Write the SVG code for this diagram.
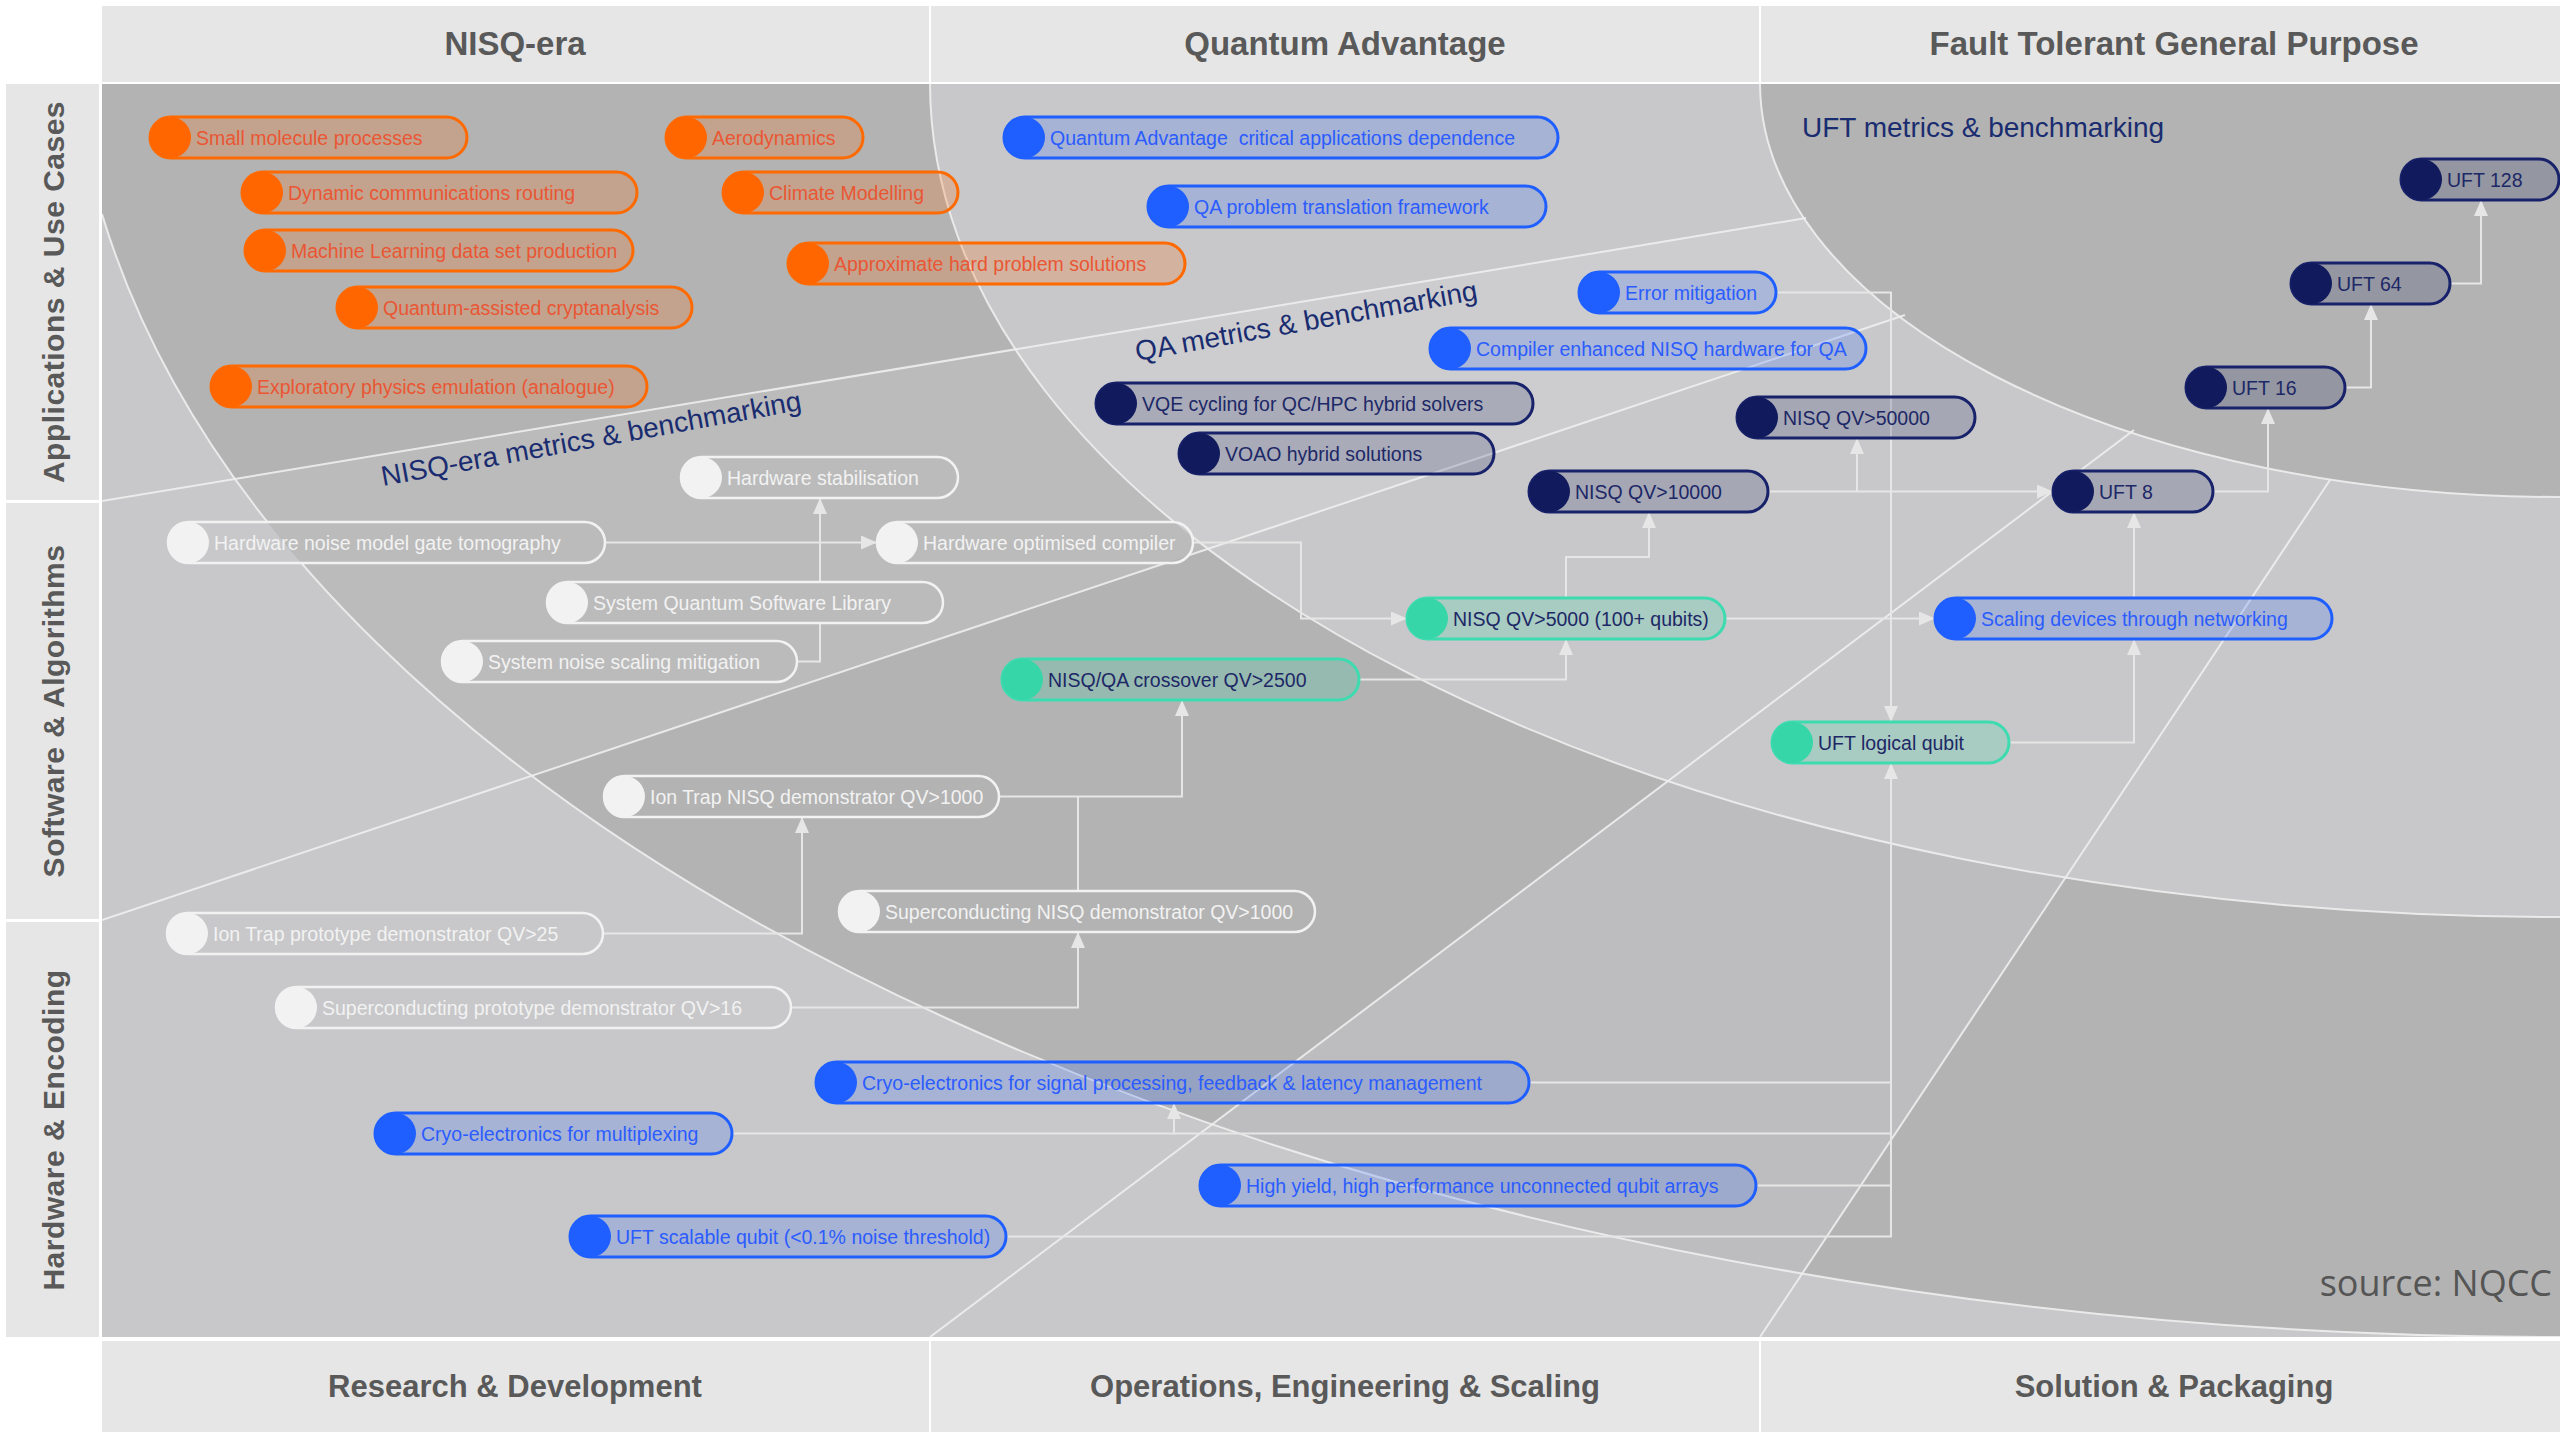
<svg xmlns="http://www.w3.org/2000/svg" xmlns:xlink="http://www.w3.org/1999/xlink" width="2560" height="1440" viewBox="0 0 2560 1440">
<defs>
<style>
.hdr{font-family:"Liberation Sans",Arial,sans-serif;font-weight:bold;font-size:33px;fill:#595959;text-anchor:middle}
.ftr{font-family:"Liberation Sans",Arial,sans-serif;font-weight:bold;font-size:31px;fill:#595959;text-anchor:middle}
.row{font-family:"Liberation Sans",Arial,sans-serif;font-weight:bold;font-size:30px;letter-spacing:0.5px;fill:#595959;text-anchor:middle}
.band{fill:#e6e6e6}
.bgline{fill:none;stroke:#eeeeee;stroke-width:2;stroke-opacity:0.9}
.conn{fill:none;stroke:#e6e6e6;stroke-width:2}
.metric{font-family:"Liberation Sans",Arial,sans-serif;font-size:28px;fill:#1a2c70}
.node text{font-family:"Liberation Sans",Arial,sans-serif;font-size:19.5px}
.node .body{stroke-width:3}
.or .body{fill:#ff6600;fill-opacity:0.21;stroke:#ff6a00}
.or .cap{fill:#ff6600}
.or text{fill:#ea5634}
.bl .body{fill:#1f5fff;fill-opacity:0.2;stroke:#1f5fff}
.bl .cap{fill:#1f5fff}
.bl text{fill:#2b5cff}
.nv .body{fill:#111a5c;fill-opacity:0.19;stroke:#18226a}
.nv .cap{fill:#111a5c}
.nv text{fill:#1d2866}
.tl .body{fill:#36d6a8;fill-opacity:0.22;stroke:#3ddbb0}
.tl .cap{fill:#36d6a8}
.tl text{fill:#1d2866}
.wh .body{fill:url(#bgpat);stroke:#f2f2f2;stroke-width:2.5}
.wh .cap{fill:#f2f2f2}
.wh text{fill:#f2f2f2}
</style>
<marker id="arr" markerUnits="userSpaceOnUse" markerWidth="16" markerHeight="14" refX="16" refY="7" orient="auto">
<path d="M0,0 L16,7 L0,14 Z" fill="#e6e6e6"/>
</marker>
<clipPath id="cContent"><rect x="102" y="84" width="2458" height="1253"/></clipPath>
<clipPath id="cSmid"><polygon points="102,501 1806,218 1905,315 102,920"/></clipPath>
<clipPath id="cSlower"><polygon points="930,1337 2134,430 2330,480 1760,1337"/></clipPath>
<g id="bgfill">
<g clip-path="url(#cContent)">
<rect x="102" y="84" width="2458" height="1253" fill="#c8c8ca"/>
<path d="M102,214 A2490,1337 0 0 0 2560,1337 L2560,80 L102,80 Z" fill="#b3b3b3"/>
<path d="M102,214 A2490,1337 0 0 0 2560,1337 L2560,80 L102,80 Z" fill="#bbbbbb" clip-path="url(#cSmid)"/>
<path d="M102,214 A2490,1337 0 0 0 2560,1337 L2560,80 L102,80 Z" fill="#bdbdbf" clip-path="url(#cSlower)"/>
<path d="M930,83 A1630,834 0 0 0 2560,917 L2560,83 Z" fill="#c8c8ca"/>
<path d="M930,83 A1630,834 0 0 0 2560,917 L2560,83 Z" fill="#cdcdcf" clip-path="url(#cSmid)"/>
<path d="M1760,83 A800,414 0 0 0 2560,497 L2560,83 Z" fill="#b3b3b3"/>
</g>
</g>
<pattern id="bgpat" patternUnits="userSpaceOnUse" x="0" y="0" width="2560" height="1440">
<use xlink:href="#bgfill" href="#bgfill"/>
</pattern>
</defs>

<rect x="0" y="0" width="2560" height="1440" fill="#ffffff"/>

<g id="background">
<use xlink:href="#bgfill" href="#bgfill"/>
<g clip-path="url(#cContent)">
<path class="bgline" d="M102,214 A2490,1337 0 0 0 2560,1337"/>
<path class="bgline" d="M930,83 A1630,834 0 0 0 2560,917"/>
<path class="bgline" d="M1760,83 A800,414 0 0 0 2560,497"/>
<path class="bgline" d="M102,501 L1806,218"/>
<path class="bgline" d="M102,920 L1905,315"/>
<path class="bgline" d="M930,1337 L2134,430"/>
<path class="bgline" d="M1760,1337 L2330,480"/>
</g>
</g>

<g id="headers">
<rect class="band" x="102" y="6" width="827" height="76"/>
<rect class="band" x="931" y="6" width="828" height="76"/>
<rect class="band" x="1761" y="6" width="799" height="76"/>
<text class="hdr" x="515" y="55">NISQ-era</text>
<text class="hdr" x="1345" y="55">Quantum Advantage</text>
<text class="hdr" x="2174" y="55">Fault Tolerant General Purpose</text>
<rect class="band" x="102" y="1341" width="827" height="91"/>
<rect class="band" x="931" y="1341" width="828" height="91"/>
<rect class="band" x="1761" y="1341" width="799" height="91"/>
<text class="ftr" x="515" y="1397">Research &amp; Development</text>
<text class="ftr" x="1345" y="1397">Operations, Engineering &amp; Scaling</text>
<text class="ftr" x="2174" y="1397">Solution &amp; Packaging</text>
<rect class="band" x="6" y="84" width="93" height="416"/>
<rect class="band" x="6" y="503" width="93" height="416"/>
<rect class="band" x="6" y="922" width="93" height="415"/>
<text class="row" transform="translate(64,292) rotate(-90)">Applications &amp; Use Cases</text>
<text class="row" transform="translate(64,711) rotate(-90)">Software &amp; Algorithms</text>
<text class="row" transform="translate(64,1130) rotate(-90)">Hardware &amp; Encoding</text>
</g>

<g id="labels">
<text class="metric" transform="translate(383,486) rotate(-10.3)">NISQ-era metrics &amp; benchmarking</text>
<text class="metric" transform="translate(1137,361) rotate(-10.2)">QA metrics &amp; benchmarking</text>
<text class="metric" x="1802" y="137">UFT metrics &amp; benchmarking</text>
<text x="2552" y="1296" font-family="'Open Sans','Noto Sans',sans-serif" font-size="36" fill="#555555" text-anchor="end">source: NQCC</text>
</g>

<g id="connectors">
<path class="conn" d="M605,542.5 H877" marker-end="url(#arr)"/>
<path class="conn" d="M797,661.5 H820 V498" marker-end="url(#arr)"/>
<path class="conn" d="M1193,542.5 H1301 V618.5 H1407" marker-end="url(#arr)"/>
<path class="conn" d="M1359,679.5 H1566 V639" marker-end="url(#arr)"/>
<path class="conn" d="M1566,598 V557 H1649 V512" marker-end="url(#arr)"/>
<path class="conn" d="M1768,491.5 H2053" marker-end="url(#arr)"/>
<path class="conn" d="M1857,491.5 V438" marker-end="url(#arr)"/>
<path class="conn" d="M2213,491.5 H2268 V408" marker-end="url(#arr)"/>
<path class="conn" d="M2345,387.5 H2371 V304" marker-end="url(#arr)"/>
<path class="conn" d="M2450,283.5 H2481 V200" marker-end="url(#arr)"/>
<path class="conn" d="M1776,292.5 H1891 V722" marker-end="url(#arr)"/>
<path class="conn" d="M2009,742.5 H2134 V639" marker-end="url(#arr)"/>
<path class="conn" d="M2134,598 V512" marker-end="url(#arr)"/>
<path class="conn" d="M1725,618.5 H1935" marker-end="url(#arr)"/>
<path class="conn" d="M603,933.5 H802 V817" marker-end="url(#arr)"/>
<path class="conn" d="M999,796.5 H1182 V700" marker-end="url(#arr)"/>
<path class="conn" d="M1078,891 V796.5"/>
<path class="conn" d="M791,1007.5 H1078 V932" marker-end="url(#arr)"/>
<path class="conn" d="M732,1133.5 H1174 V1103" marker-end="url(#arr)"/>
<path class="conn" d="M1174,1133.5 H1891"/>
<path class="conn" d="M1529,1082.5 H1891"/>
<path class="conn" d="M1756,1185.5 H1891"/>
<path class="conn" d="M1006,1236.5 H1891 V763" marker-end="url(#arr)"/>
</g>

<g id="nodes">
<g id="n-small-molecule" class="node or"><rect class="body" x="150" y="117" width="317" height="41" rx="20.5"/><circle class="cap" cx="170.5" cy="137.5" r="20.5"/><text x="196" y="144.5">Small molecule processes</text></g>
<g id="n-aerodynamics" class="node or"><rect class="body" x="666" y="117" width="197" height="41" rx="20.5"/><circle class="cap" cx="686.5" cy="137.5" r="20.5"/><text x="712" y="144.5">Aerodynamics</text></g>
<g id="n-dynamic-comms" class="node or"><rect class="body" x="242" y="172" width="395" height="41" rx="20.5"/><circle class="cap" cx="262.5" cy="192.5" r="20.5"/><text x="288" y="199.5">Dynamic communications routing</text></g>
<g id="n-climate" class="node or"><rect class="body" x="723" y="172" width="235" height="41" rx="20.5"/><circle class="cap" cx="743.5" cy="192.5" r="20.5"/><text x="769" y="199.5">Climate Modelling</text></g>
<g id="n-ml-data" class="node or"><rect class="body" x="245" y="230" width="388" height="41" rx="20.5"/><circle class="cap" cx="265.5" cy="250.5" r="20.5"/><text x="291" y="257.5">Machine Learning data set production</text></g>
<g id="n-approx-hard" class="node or"><rect class="body" x="788" y="243" width="397" height="41" rx="20.5"/><circle class="cap" cx="808.5" cy="263.5" r="20.5"/><text x="834" y="270.5">Approximate hard problem solutions</text></g>
<g id="n-crypt" class="node or"><rect class="body" x="337" y="287" width="355" height="41" rx="20.5"/><circle class="cap" cx="357.5" cy="307.5" r="20.5"/><text x="383" y="314.5">Quantum-assisted cryptanalysis</text></g>
<g id="n-exploratory" class="node or"><rect class="body" x="211" y="366" width="436" height="41" rx="20.5"/><circle class="cap" cx="231.5" cy="386.5" r="20.5"/><text x="257" y="393.5">Exploratory physics emulation (analogue)</text></g>

<g id="n-qa-critical" class="node bl"><rect class="body" x="1004" y="117" width="554" height="41" rx="20.5"/><circle class="cap" cx="1024.5" cy="137.5" r="20.5"/><text x="1050" y="144.5" xml:space="preserve">Quantum Advantage  critical applications dependence</text></g>
<g id="n-qa-translation" class="node bl"><rect class="body" x="1148" y="186" width="398" height="41" rx="20.5"/><circle class="cap" cx="1168.5" cy="206.5" r="20.5"/><text x="1194" y="213.5">QA problem translation framework</text></g>
<g id="n-error-mitigation" class="node bl"><rect class="body" x="1579" y="272" width="197" height="41" rx="20.5"/><circle class="cap" cx="1599.5" cy="292.5" r="20.5"/><text x="1625" y="299.5">Error mitigation</text></g>
<g id="n-compiler-enhanced" class="node bl"><rect class="body" x="1430" y="328" width="436" height="41" rx="20.5"/><circle class="cap" cx="1450.5" cy="348.5" r="20.5"/><text x="1476" y="355.5">Compiler enhanced NISQ hardware for QA</text></g>
<g id="n-scaling-networking" class="node bl"><rect class="body" x="1935" y="598" width="397" height="41" rx="20.5"/><circle class="cap" cx="1955.5" cy="618.5" r="20.5"/><text x="1981" y="625.5">Scaling devices through networking</text></g>
<g id="n-cryo-signal" class="node bl"><rect class="body" x="816" y="1062" width="713" height="41" rx="20.5"/><circle class="cap" cx="836.5" cy="1082.5" r="20.5"/><text x="862" y="1089.5">Cryo-electronics for signal processing, feedback &amp; latency management</text></g>
<g id="n-cryo-mux" class="node bl"><rect class="body" x="375" y="1113" width="357" height="41" rx="20.5"/><circle class="cap" cx="395.5" cy="1133.5" r="20.5"/><text x="421" y="1140.5">Cryo-electronics for multiplexing</text></g>
<g id="n-high-yield" class="node bl"><rect class="body" x="1200" y="1165" width="556" height="41" rx="20.5"/><circle class="cap" cx="1220.5" cy="1185.5" r="20.5"/><text x="1246" y="1192.5">High yield, high performance unconnected qubit arrays</text></g>
<g id="n-uft-scalable" class="node bl"><rect class="body" x="570" y="1216" width="436" height="41" rx="20.5"/><circle class="cap" cx="590.5" cy="1236.5" r="20.5"/><text x="616" y="1243.5">UFT scalable qubit (&lt;0.1% noise threshold)</text></g>

<g id="n-vqe" class="node nv"><rect class="body" x="1096" y="383" width="437" height="41" rx="20.5"/><circle class="cap" cx="1116.5" cy="403.5" r="20.5"/><text x="1142" y="410.5">VQE cycling for QC/HPC hybrid solvers</text></g>
<g id="n-voao" class="node nv"><rect class="body" x="1179" y="433" width="315" height="41" rx="20.5"/><circle class="cap" cx="1199.5" cy="453.5" r="20.5"/><text x="1225" y="460.5">VOAO hybrid solutions</text></g>
<g id="n-qv10000" class="node nv"><rect class="body" x="1529" y="471" width="239" height="41" rx="20.5"/><circle class="cap" cx="1549.5" cy="491.5" r="20.5"/><text x="1575" y="498.5">NISQ QV&gt;10000</text></g>
<g id="n-qv50000" class="node nv"><rect class="body" x="1737" y="397" width="238" height="41" rx="20.5"/><circle class="cap" cx="1757.5" cy="417.5" r="20.5"/><text x="1783" y="424.5">NISQ QV&gt;50000</text></g>
<g id="n-uft128" class="node nv"><rect class="body" x="2401" y="159" width="158" height="41" rx="20.5"/><circle class="cap" cx="2421.5" cy="179.5" r="20.5"/><text x="2447" y="186.5">UFT 128</text></g>
<g id="n-uft64" class="node nv"><rect class="body" x="2291" y="263" width="159" height="41" rx="20.5"/><circle class="cap" cx="2311.5" cy="283.5" r="20.5"/><text x="2337" y="290.5">UFT 64</text></g>
<g id="n-uft16" class="node nv"><rect class="body" x="2186" y="367" width="159" height="41" rx="20.5"/><circle class="cap" cx="2206.5" cy="387.5" r="20.5"/><text x="2232" y="394.5">UFT 16</text></g>
<g id="n-uft8" class="node nv"><rect class="body" x="2053" y="471" width="160" height="41" rx="20.5"/><circle class="cap" cx="2073.5" cy="491.5" r="20.5"/><text x="2099" y="498.5">UFT 8</text></g>

<g id="n-qv5000" class="node tl"><rect class="body" x="1407" y="598" width="318" height="41" rx="20.5"/><circle class="cap" cx="1427.5" cy="618.5" r="20.5"/><text x="1453" y="625.5">NISQ QV&gt;5000 (100+ qubits)</text></g>
<g id="n-crossover" class="node tl"><rect class="body" x="1002" y="659" width="357" height="41" rx="20.5"/><circle class="cap" cx="1022.5" cy="679.5" r="20.5"/><text x="1048" y="686.5">NISQ/QA crossover QV&gt;2500</text></g>
<g id="n-uft-logical" class="node tl"><rect class="body" x="1772" y="722" width="237" height="41" rx="20.5"/><circle class="cap" cx="1792.5" cy="742.5" r="20.5"/><text x="1818" y="749.5">UFT logical qubit</text></g>

<g id="n-hw-stab" class="node wh"><rect class="body" x="681" y="457" width="277" height="41" rx="20.5"/><circle class="cap" cx="701.5" cy="477.5" r="20.5"/><text x="727" y="484.5">Hardware stabilisation</text></g>
<g id="n-hw-noise" class="node wh"><rect class="body" x="168" y="522" width="437" height="41" rx="20.5"/><circle class="cap" cx="188.5" cy="542.5" r="20.5"/><text x="214" y="549.5">Hardware noise model gate tomography</text></g>
<g id="n-hw-compiler" class="node wh"><rect class="body" x="877" y="522" width="316" height="41" rx="20.5"/><circle class="cap" cx="897.5" cy="542.5" r="20.5"/><text x="923" y="549.5">Hardware optimised compiler</text></g>
<g id="n-sqsl" class="node wh"><rect class="body" x="547" y="582" width="396" height="41" rx="20.5"/><circle class="cap" cx="567.5" cy="602.5" r="20.5"/><text x="593" y="609.5">System Quantum Software Library</text></g>
<g id="n-noise-scaling" class="node wh"><rect class="body" x="442" y="641" width="355" height="41" rx="20.5"/><circle class="cap" cx="462.5" cy="661.5" r="20.5"/><text x="488" y="668.5">System noise scaling mitigation</text></g>
<g id="n-iontrap-nisq" class="node wh"><rect class="body" x="604" y="776" width="395" height="41" rx="20.5"/><circle class="cap" cx="624.5" cy="796.5" r="20.5"/><text x="650" y="803.5">Ion Trap NISQ demonstrator QV&gt;1000</text></g>
<g id="n-sc-nisq" class="node wh"><rect class="body" x="839" y="891" width="476" height="41" rx="20.5"/><circle class="cap" cx="859.5" cy="911.5" r="20.5"/><text x="885" y="918.5">Superconducting NISQ demonstrator QV&gt;1000</text></g>
<g id="n-iontrap-proto" class="node wh"><rect class="body" x="167" y="913" width="436" height="41" rx="20.5"/><circle class="cap" cx="187.5" cy="933.5" r="20.5"/><text x="213" y="940.5">Ion Trap prototype demonstrator QV&gt;25</text></g>
<g id="n-sc-proto" class="node wh"><rect class="body" x="276" y="987" width="515" height="41" rx="20.5"/><circle class="cap" cx="296.5" cy="1007.5" r="20.5"/><text x="322" y="1014.5">Superconducting prototype demonstrator QV&gt;16</text></g>
</g>
</svg>
